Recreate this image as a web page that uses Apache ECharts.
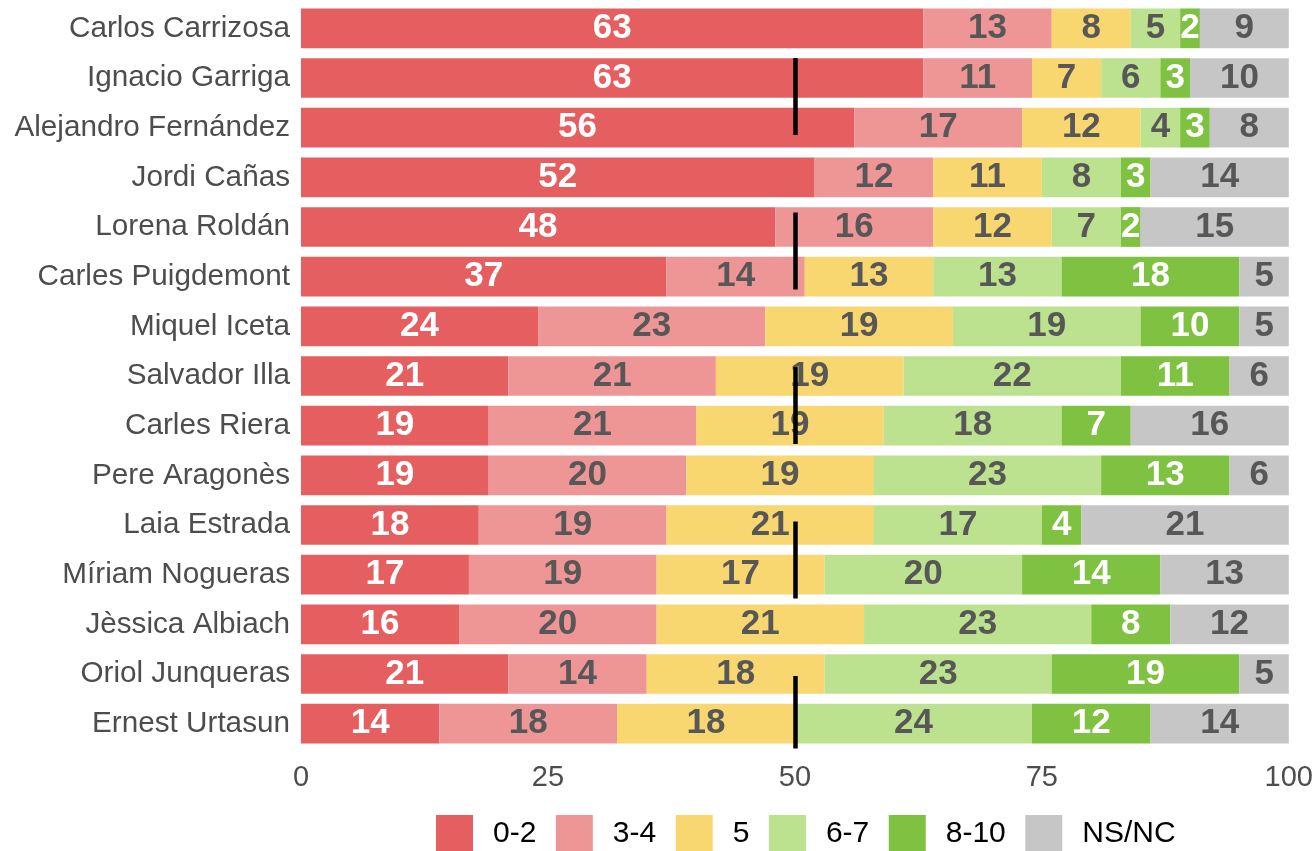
<!DOCTYPE html>
<html>
<head>
<meta charset="utf-8">
<script src="https://cdn.jsdelivr.net/npm/echarts@6/dist/echarts.min.js"></script>
<style>html,body{margin:0;padding:0;background:#fff;}#c{width:1316px;height:851px;}</style>
</head>
<body>
<div id="c"></div>
<script>
const categories = ["Carlos Carrizosa","Ignacio Garriga","Alejandro Fernández","Jordi Cañas","Lorena Roldán","Carles Puigdemont","Miquel Iceta","Salvador Illa","Carles Riera","Pere Aragonès","Laia Estrada","Míriam Nogueras","Jèssica Albiach","Oriol Junqueras","Ernest Urtasun"];
const seriesNames = ["0-2","3-4","5","6-7","8-10","NS/NC"];
const v0_2  = [63,63,56,52,48,37,24,21,19,19,18,17,16,21,14];
const v3_4  = [13,11,17,12,16,14,23,21,21,20,19,19,20,14,18];
const v5    = [8,7,12,11,12,13,19,19,19,19,21,17,21,18,18];
const v6_7  = [5,6,4,8,7,13,19,22,18,23,17,20,23,23,24];
const v8_10 = [2,3,3,3,2,18,10,11,7,13,4,14,8,19,12];
const vNSNC = [9,10,8,14,15,5,5,6,16,6,21,13,12,5,14];
const xTicks = [0,25,50,75,100];
const refLine = 50;

const values = [v0_2,v3_4,v5,v6_7,v8_10,vNSNC];
const colors = ["#E65F60","#EE9595","#F8D670","#BCE28F","#7FC241","#C6C6C6"];
const labelColors = ["#ffffff","#575757","#575757","#575757","#ffffff","#575757"];
const FONT = "Liberation Sans, Arial, sans-serif";

const series = seriesNames.map((n,i)=>({
  name:n, type:'bar', stack:'total', barWidth:'80%',
  data: values[i],
  itemStyle:{color:colors[i]},
  label:{show:true, position:'inside', formatter:'{c}', color:labelColors[i], fontSize:35, fontWeight:'bold', fontFamily:FONT},
  emphasis:{disabled:true},
  silent:true
}));
series[5].markLine = {
  silent:true, symbol:['none','none'], animation:false,
  label:{show:false},
  lineStyle:{color:'#000', width:4.5, type:[77,77.5], dashOffset:100},
  data:[{xAxis:refLine}]
};

const chart = echarts.init(document.getElementById('c'), null, {renderer:'canvas'});
chart.setOption({
  animation:false,
  backgroundColor:'#fff',
  grid:{left:301, right:27, top:3.5, height:745, containLabel:false},
  legend:{
    data:seriesNames, left:436, top:815, padding:0, itemWidth:37, itemHeight:37, itemGap:19.5,
    icon:'rect', selectedMode:false,
    textStyle:{fontSize:30, color:'#000', fontFamily:FONT, padding:[0,0,0,15]}
  },
  xAxis:{
    type:'value', min:xTicks[0], max:xTicks[xTicks.length-1], interval:25,
    axisLine:{show:false}, axisTick:{show:false}, splitLine:{show:false},
    axisLabel:{fontSize:29, color:'#4D4D4D', fontFamily:FONT, margin:15}
  },
  yAxis:{
    type:'category', data:categories, inverse:true,
    axisLine:{show:false}, axisTick:{show:false}, splitLine:{show:false},
    axisLabel:{fontSize:29.7, color:'#4D4D4D', fontFamily:FONT, margin:11}
  },
  series:series
});
</script>
</body>
</html>
